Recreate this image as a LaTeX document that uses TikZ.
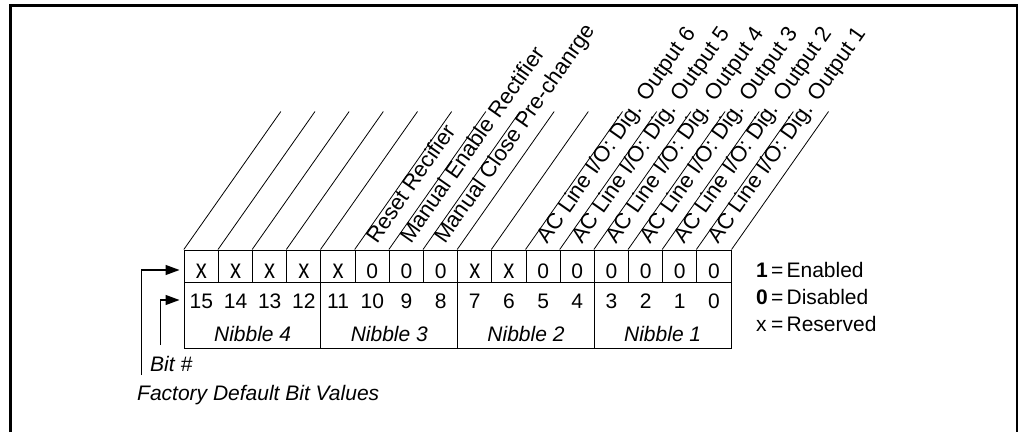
\documentclass[tikz,border=0pt]{standalone}
\usepackage{fontspec}
\setmainfont{Liberation Sans}
\usepackage{graphicx}
\usetikzlibrary{arrows.meta,calc}
\newcommand{\tallx}{\scalebox{1.05}[1.3]{x}}

\begin{document}
\begin{tikzpicture}[
    x=1pt, y=1pt,
    every node/.style={inner sep=0pt, font=\fontsize{21}{25}\selectfont},
    valcell/.style={draw, line width=1pt, minimum width=34.17pt, minimum height=32pt,
        text height=24pt, text depth=0pt},
    nibble/.style={draw, line width=1pt, minimum width=136.68pt, minimum height=66pt},
    bitno/.style={anchor=base},
    niblabel/.style={anchor=base, font=\fontsize{21}{25}\selectfont\itshape},
    slant/.style={line width=0.8pt},
    rotlabel/.style={anchor=base west, rotate=54.9, font=\fontsize{22}{26}\selectfont},
    keyline/.style={anchor=base west},
    pointer/.style={line width=1.3pt, -{Triangle[length=14pt, width=10pt]}, shorten >=4.3pt}
]
\useasboundingbox (0,0) rectangle (1020,432);
% frame
\draw[line width=2.8pt] (10.5,0) -- (10.5,426.7) -- (1017,426.7) -- (1017,0);

% default values
\foreach \v [count=\k from 0, evaluate=\k as \b using int(15-\k)] in
    {\tallx,\tallx,\tallx,\tallx,\tallx,0,0,0,\tallx,\tallx,0,0,0,0,0,0}
    \node[valcell] (v\b) at ({201.4+\k*34.17},166) {\v};

% nibbles
\foreach \n [count=\k from 0] in {4,3,2,1} {
    \node[nibble] (nib\n) at ({252.64+\k*136.68},117) {};
    \node[niblabel] (lab\n) at (nib\n |- 0,90.3) {Nibble \n};
}

% bit numbers
\foreach \b in {15,...,0}
    \node[bitno] (b\b) at (v\b |- 0,124) {\b};

% slanted lines
\foreach \b in {15,...,0}
    \draw[slant] (v\b.north west) -- ++(97,138);
\draw[slant] (v0.north east) -- ++(97,138);

% bit names
\foreach \b/\txt in {10/Reset Recifier, 9/Manual Enable Rectifier, 8/Manual Close Pre-chanrge}
    \node[rotlabel] (t\b) at ([shift={(22.3,4.8)}]v\b.north west) {\txt};
\foreach \b [evaluate=\b as \o using int(\b+1)] in {5,...,0}
    \node[rotlabel] (t\b) at ([shift={(22.3,4.8)}]v\b.north west) {AC Line I/O: Dig. Output \o};

% legend
\node[keyline] (key1) at (756,155) {\makebox[15pt][l]{\bfseries 1}\makebox[15.4pt][l]{=}Enabled};
\node[keyline] (key0) at (756,128) {\makebox[15pt][l]{\bfseries 0}\makebox[15.4pt][l]{=}Disabled};
\node[keyline] (keyx) at (756,101) {\makebox[15pt][l]{x}\makebox[15.4pt][l]{=}Reserved};

% pointers
\node[anchor=base west, font=\fontsize{21}{25}\selectfont\itshape] (bitnum) at (150,60.3) {Bit \#};
\node[anchor=base west, font=\fontsize{21}{25}\selectfont\itshape] (factory) at (137,32) {Factory Default Bit Values};
\coordinate (fstart) at (141.7,57);
\coordinate (bstart) at (160.7,87);
\draw[pointer] (fstart) |- ([yshift=-4pt]v15.west);
\draw[pointer] (bstart) |- (nib4.west |- 0,132);
\end{tikzpicture}
\end{document}
